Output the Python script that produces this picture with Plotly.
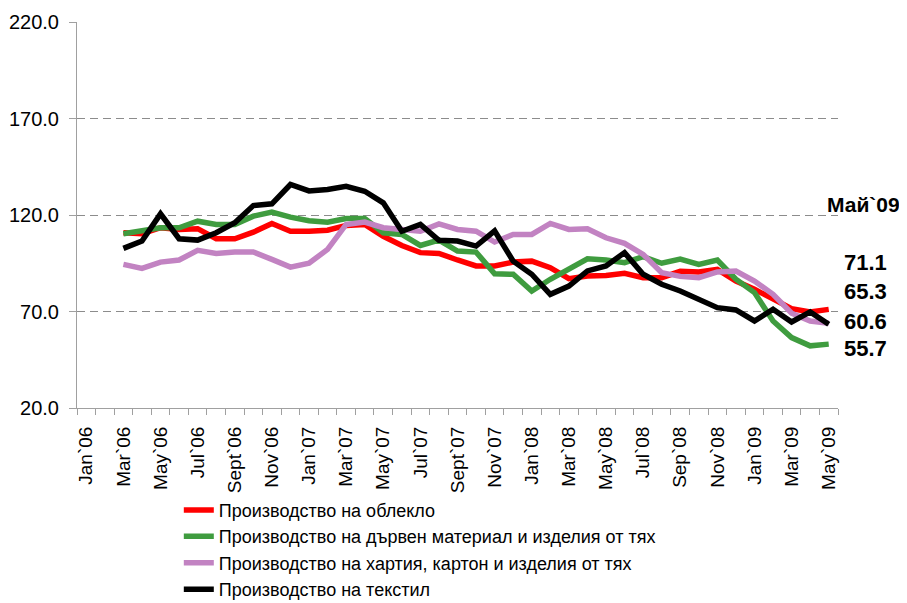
#!/bin/env python3

# %%
import plotly.graph_objects as go

# %%
# Monthly index values, Jan`06 .. May`09 (first two months have no data)
months = [
    "Jan`06", "Feb`06", "Mar`06", "Apr`06", "May`06", "Jun`06", "Jul`06", "Aug`06",
    "Sept`06", "Oct`06", "Nov`06", "Dec`06", "Jan`07", "Feb`07", "Mar`07", "Apr`07",
    "May`07", "Jun`07", "Jul`07", "Aug`07", "Sept`07", "Oct`07", "Nov`07", "Dec`07",
    "Jan`08", "Feb`08", "Mar`08", "Apr`08", "May`08", "Jun`08", "Jul`08", "Aug`08",
    "Sep`08", "Oct`08", "Nov`08", "Dec`08", "Jan`09", "Feb`09", "Mar`09", "Apr`09",
    "May`09",
]

clothing = [
    None, None,
    110.8, 110.3, 113.4, 112.5, 112.9, 107.7, 107.7, 111.1, 115.6, 111.6,
    111.6, 112.1, 114.6, 115.1, 109.0, 104.2, 100.5, 100.1, 96.7, 93.6,
    93.6, 95.6, 96.1, 92.7, 87.0, 88.4, 88.7, 89.8, 87.5, 87.5,
    90.8, 90.5, 91.8, 85.8, 81.5, 76.3, 71.5, 69.8, 71.1,
]
wood = [
    None, None,
    110.3, 112.0, 113.4, 113.4, 116.8, 115.1, 115.1, 119.4, 121.5, 118.9,
    117.0, 116.3, 118.2, 118.2, 110.8, 109.9, 104.2, 107.0, 101.3, 100.8,
    89.5, 89.3, 80.6, 86.7, 91.8, 97.3, 96.7, 95.3, 98.4, 95.0,
    97.2, 94.4, 96.7, 86.7, 79.8, 65.1, 56.5, 52.2, 53.1,
]
paper = [
    None, None,
    94.4, 92.3, 95.6, 96.7, 101.7, 100.1, 100.8, 100.8, 97.0, 93.0,
    95.0, 102.2, 115.1, 116.3, 113.4, 112.5, 111.6, 115.4, 112.5, 111.6,
    106.0, 109.9, 109.9, 115.6, 112.5, 112.9, 108.2, 105.3, 99.6, 90.1,
    88.2, 87.5, 90.5, 91.0, 85.8, 78.9, 69.1, 65.1, 63.9,
]
textile = [
    None, None,
    102.7, 106.5, 120.6, 107.7, 107.0, 110.8, 116.0, 124.9, 125.8, 135.8,
    132.5, 133.2, 134.9, 132.3, 126.3, 111.6, 115.1, 106.9, 106.5, 103.9,
    111.8, 96.1, 89.3, 78.9, 83.2, 91.0, 93.6, 100.5, 89.3, 84.1,
    80.6, 76.3, 72.0, 70.8, 65.1, 71.2, 64.6, 69.8, 63.4,
]

series_names = [
    "Производство на облекло",
    "Производство на дървен материал и изделия от тях",
    "Производство на хартия, картон и изделия от тях",
    "Производство на текстил",
]
series_colors = ["#ff0000", "#3f9c3f", "#c283c2", "#000000"]

last_month_label = "Май`09"
last_values = ["71.1", "65.3", "60.6", "55.7"]

y_ticks = [20, 70, 120, 170, 220]

FONT = "Liberation Sans, Arial, sans-serif"


# %%
def create_figure() -> go.Figure:
    """Builds the four-line production index chart."""
    fig = go.Figure()

    for name, values, color in zip(
        series_names, [clothing, wood, paper, textile], series_colors
    ):
        fig.add_trace(
            go.Scatter(
                x=months,
                y=values,
                name=name,
                mode="lines",
                line=dict(color=color, width=5.5),
                connectgaps=False,
            )
        )

    # Only every second month gets a label, but every month gets a tick
    tick_text = [m if i % 2 == 0 else "" for i, m in enumerate(months)]

    fig.update_xaxes(
        type="category",
        automargin=False,
        tickmode="array",
        tickvals=months,
        ticktext=tick_text,
        tickangle=-90,
        tickson="boundaries",
        ticks="outside",
        ticklen=6,
        tickcolor="#a0a0a0",
        ticklabelstandoff=10,
        showline=True,
        linecolor="#a0a0a0",
        linewidth=1,
        showgrid=False,
        range=[-0.5, len(months) - 0.5],
        tickfont=dict(family=FONT, size=19, color="black"),
    )
    fig.update_yaxes(
        automargin=False,
        range=[20, 220],
        tickvals=y_ticks,
        tickformat=".1f",
        ticks="outside",
        ticklen=7,
        tickcolor="#a0a0a0",
        ticklabelstandoff=6,
        showline=True,
        linecolor="#a0a0a0",
        linewidth=1,
        showgrid=True,
        gridcolor="#8c8c8c",
        griddash="8px,5px",
        gridwidth=1,
        zeroline=False,
        tickfont=dict(family=FONT, size=20, color="black"),
    )

    # Last month label and end values on the right
    fig.add_annotation(
        text=f"<b>{last_month_label}</b>",
        xref="paper", yref="paper", x=1.084, y=0.528,
        xanchor="right", yanchor="middle", showarrow=False,
        font=dict(family=FONT, size=21, color="black"),
    )
    for val, ypos in zip(last_values, [0.376, 0.301, 0.223, 0.155]):
        fig.add_annotation(
            text=f"<b>{val}</b>",
            xref="paper", yref="paper", x=1.005, y=ypos,
            xanchor="left", yanchor="middle", showarrow=False,
            font=dict(family=FONT, size=22, color="black"),
        )

    # The page body adds an 8px offset, so the figure is 8px smaller
    fig.update_layout(
        width=899,
        height=595,
        margin=dict(l=69, r=69, t=14, b=195, autoexpand=False),
        paper_bgcolor="white",
        plot_bgcolor="white",
        showlegend=True,
        legend=dict(
            orientation="v",
            xref="container",
            yref="container",
            x=0.190,
            y=0.187,
            xanchor="left",
            yanchor="top",
            bgcolor="rgba(0,0,0,0)",
            font=dict(family=FONT, size=18, color="black"),
            itemwidth=30,
            tracegroupgap=0,
        ),
    )
    return fig


def main() -> None:
    fig = create_figure()
    fig.write_html("out.html")


if __name__ == "__main__":
    main()
